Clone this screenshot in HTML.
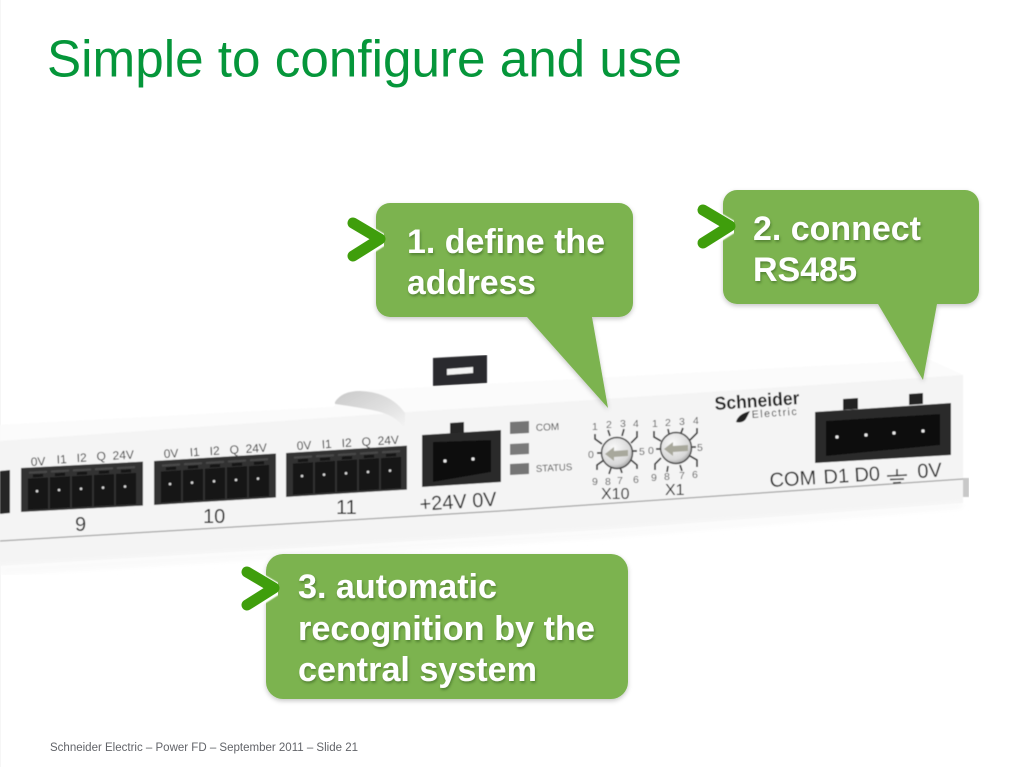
<!DOCTYPE html>
<html><head><meta charset="utf-8"><style>
html,body{margin:0;padding:0;background:#fff;width:1024px;height:767px;overflow:hidden}
svg{display:block}
text{font-family:"Liberation Sans",sans-serif}
.c{font-weight:bold;font-size:34px;fill:#fff;filter:url(#ts)}
.s{font-size:12px;fill:#333}
.l{fill:#222}
.n{font-size:10.5px;fill:#5a5a5a}
</style></head><body>
<svg width="1024" height="767" viewBox="0 0 1024 767" xmlns="http://www.w3.org/2000/svg">
<defs>
<filter id="ts" x="-5%" y="-20%" width="110%" height="140%"><feDropShadow dx="1" dy="2" stdDeviation="1.2" flood-color="#3c6a20" flood-opacity=".65"/></filter>
<filter id="bs" x="-5%" y="-5%" width="110%" height="112%"><feDropShadow dx="0" dy="2" stdDeviation="2.5" flood-color="#000" flood-opacity=".22"/></filter>
<filter id="bl"><feGaussianBlur stdDeviation=".6"/></filter>
<filter id="bl2" x="-5%" y="-50%" width="110%" height="200%"><feGaussianBlur stdDeviation="3"/></filter>
<filter id="soft" x="0" y="0" width="100%" height="100%"><feGaussianBlur stdDeviation=".45"/></filter>
<linearGradient id="hump" x1="0" y1="0" x2="1" y2="1"><stop offset="0" stop-color="#c9c9c9"/><stop offset=".7" stop-color="#e6e6e6"/><stop offset="1" stop-color="#f6f6f6"/></linearGradient>
<linearGradient id="chv" x1="0" y1="0" x2="0" y2="1"><stop offset="0" stop-color="#3a9a08"/><stop offset="1" stop-color="#48a312"/></linearGradient>
<radialGradient id="dial" cx=".4" cy=".35" r=".7"><stop offset="0" stop-color="#fafafa"/><stop offset=".75" stop-color="#d8d8d8"/><stop offset="1" stop-color="#9a9a9a"/></radialGradient>
<g id="slot">
<rect x="0" y="2" width="20" height="31" fill="#131313"/>
<rect x="1" y="-5" width="18" height="2.2" fill="#4a4a4a"/>
<rect x="5" y="-2" width="10" height="3" fill="#191919"/>
<circle cx="9" cy="15" r="1.3" fill="#ddd"/>
</g>
<g id="chev"><path d="M6 5 L33 21 L6 38" fill="none" stroke="#fff" stroke-width="14" stroke-linejoin="round" stroke-linecap="round" filter="url(#bl)" transform="translate(1 1)"/><path d="M6 5 L33 21 L6 38" fill="none" stroke="#3f9e0c" stroke-width="11" stroke-linejoin="round" stroke-linecap="round"/></g>
</defs>

<rect width="1024" height="767" fill="#fff"/>
<rect x="0" y="0" width="1" height="767" fill="#f6f6f6"/>

<text x="47" y="76.5" font-size="52" fill="#05963a" textLength="635" lengthAdjust="spacingAndGlyphs">Simple to configure and use</text>

<!-- device -->
<g filter="url(#soft)">
<path d="M0 425 L333 407 L357 391 L930 360 L963 375 L963 503 L600 530 L0 566Z" fill="#f4f4f4"/>
<path d="M0 425 L333 407 L357 391 L930 360 L963 375 L500 406 L408 412 L0 441Z" fill="#fbfbfb"/>
<path d="M0 541 L500 511 L963 479" fill="none" stroke="#a4a4a4" stroke-width="1.3"/>
<path d="M0 566 L600 530 L963 503 L963 508 L600 538 L0 575Z" fill="#f9f9f9" filter="url(#bl2)"/>
<rect x="963" y="478" width="6" height="19" fill="#c8c8c8"/>
<path d="M335 402 Q342 391 360 391 Q390 392 405 413 L405 430 Q398 415 372 410 Q350 406 335 404Z" fill="url(#hump)"/>

<!-- clip -->
<path d="M433 358 L487 355 L487 383 L433 386Z" fill="#2a2c2e"/>
<path d="M447 369 L473 367 L473 373 L447 375Z" fill="#f4f4f4"/>

<!-- left partial -->
<path d="M0 471 L10 470 L10 513 L0 514Z" fill="#262626"/>

<!-- conn 9 -->
<g transform="translate(21 468) skewY(-3)">
<rect width="122" height="44" fill="#303030"/>
<use href="#slot" x="7" y="9"/><use href="#slot" x="29" y="9"/><use href="#slot" x="51" y="9"/><use href="#slot" x="73" y="9"/><use href="#slot" x="95" y="9"/>
</g>
<g transform="translate(154 461) skewY(-3.5)">
<rect width="122" height="44" fill="#303030"/>
<use href="#slot" x="7" y="9"/><use href="#slot" x="29" y="9"/><use href="#slot" x="51" y="9"/><use href="#slot" x="73" y="9"/><use href="#slot" x="95" y="9"/>
</g>
<g transform="translate(286 453) skewY(-3.5)">
<rect width="121" height="44" fill="#303030"/>
<use href="#slot" x="7" y="9"/><use href="#slot" x="29" y="9"/><use href="#slot" x="51" y="9"/><use href="#slot" x="73" y="9"/><use href="#slot" x="95" y="9"/>
</g>

<g transform="rotate(-3 31 466)"><text class="s" x="31" y="466">0V</text><text class="s" x="57" y="465">I1</text><text class="s" x="77" y="464.5">I2</text><text class="s" x="97" y="464">Q</text><text class="s" x="113" y="464">24V</text></g>
<g transform="rotate(-3.5 164 458)"><text class="s" x="164" y="458">0V</text><text class="s" x="190" y="458">I1</text><text class="s" x="210" y="458">I2</text><text class="s" x="230" y="458">Q</text><text class="s" x="246" y="458">24V</text></g>
<g transform="rotate(-3.5 297 450)"><text class="s" x="297" y="450">0V</text><text class="s" x="322" y="450">I1</text><text class="s" x="342" y="450">I2</text><text class="s" x="362" y="450">Q</text><text class="s" x="378" y="450">24V</text></g>
<text class="l" x="75" y="531" font-size="20">9</text>
<text class="l" x="203" y="523" font-size="20">10</text>
<text class="l" x="336" y="514" font-size="20">11</text>

<!-- 24V conn -->
<path d="M450 423 L464 422 L464 433 L450 434Z" fill="#262626"/>
<path d="M422 435 L501 430 L501 482 L422 487Z" fill="#2c2c2c"/>
<path d="M433 442 L491 440 L491 472 L433 482Z" fill="#111"/>
<circle cx="445" cy="461" r="1.6" fill="#eee"/><circle cx="473" cy="459" r="1.6" fill="#eee"/>
<text class="l" x="420" y="511" font-size="20" transform="rotate(-4 420 511)">+24V 0V</text>

<!-- LEDs -->
<path d="M510 422 L529 421 L529 433 L510 434Z" fill="#747474"/>
<path d="M510 444 L529 443 L529 454 L510 455Z" fill="#7a7a7a"/>
<path d="M510 464 L529 463 L529 474 L510 475Z" fill="#747474"/>
<text x="536" y="431" font-size="10" fill="#444" transform="rotate(-3 536 431)">COM</text>
<text x="536" y="472" font-size="9.6" fill="#444" transform="rotate(-3 536 472)">STATUS</text>

<!-- dials -->
<g fill="none" stroke="#333" stroke-width="1.7">
<path d="M595 434 V439 L602 444"/><path d="M608 430 L610 436"/><path d="M624 429 L622 436"/><path d="M637 431 V437 L631 443"/>
<path d="M597 470 V465 L604 460"/><path d="M609 474 L611 468"/><path d="M622 473 L620 467"/><path d="M637 469 V465 L631 460"/>
<path d="M597 453 H601"/><path d="M633 451 H637"/>
<path d="M654 431 V437 L661 441"/><path d="M668 429 L669 434"/><path d="M683 428 L681 433"/><path d="M697 428 V433 L690 440"/>
<path d="M655 470 V464 L661 458"/><path d="M667 472 L668 466"/><path d="M682 471 L680 465"/><path d="M697 467 V460 L690 456"/>
<path d="M656 449 H660"/><path d="M692 447 H696"/>
</g>
<circle cx="617" cy="453" r="15.5" fill="url(#dial)" stroke="#444" stroke-width="1.5"/>
<circle cx="676" cy="448" r="15.5" fill="url(#dial)" stroke="#444" stroke-width="1.5"/>
<path d="M605 454 L614 447 V451 L628 450 V456 L614 457 V461Z" fill="#a8a89c"/>
<path d="M664 449 L673 442 V446 L688 445 V451 L673 452 V456Z" fill="#a8a89c"/>
<text class="n" x="592" y="430">1</text><text class="n" x="606" y="428">2</text><text class="n" x="620" y="427">3</text><text class="n" x="633" y="427">4</text>
<text class="n" x="639" y="455">5</text><text class="n" x="633" y="483">6</text><text class="n" x="617" y="484">7</text><text class="n" x="605" y="485">8</text><text class="n" x="592" y="485">9</text><text class="n" x="588" y="458">0</text>
<text class="n" x="652" y="427">1</text><text class="n" x="665" y="426">2</text><text class="n" x="679" y="425">3</text><text class="n" x="693" y="424">4</text>
<text class="n" x="697" y="451">5</text><text class="n" x="692" y="478">6</text><text class="n" x="679" y="479">7</text><text class="n" x="664" y="480">8</text><text class="n" x="651" y="481">9</text><text class="n" x="648" y="454">0</text>
<text class="l" x="601" y="499" font-size="16">X10</text>
<text class="l" x="665" y="495" font-size="16">X1</text>

<!-- logo -->
<text x="715" y="410" font-size="18.5" font-weight="bold" fill="#1c1c1c" transform="rotate(-4 715 410)" textLength="85" lengthAdjust="spacingAndGlyphs">Schneider</text>
<text x="752" y="418" font-size="10.5" fill="#444" textLength="45" transform="rotate(-4 752 418)">Electric</text>
<path d="M736 422 Q738 414 750 411 L747 417 Q744 424 736 422Z" fill="#222"/>

<!-- RS485 conn -->
<path d="M843 399 L858 398 L858 409 L843 410Z" fill="#222"/>
<path d="M909 394 L923 393 L923 404 L909 405Z" fill="#222"/>
<path d="M815 412 L951 403 L951 455 L815 463Z" fill="#2b2b2b"/>
<path d="M826 421 L940 414 L940 445 L826 456Z" fill="#0f0f0f"/>
<circle cx="837" cy="437" r="1.6" fill="#eee"/><circle cx="866" cy="435" r="1.6" fill="#eee"/><circle cx="894" cy="433" r="1.6" fill="#eee"/><circle cx="923" cy="431" r="1.6" fill="#eee"/>
<g transform="rotate(-3.5 770 487)"><text class="l" x="770" y="487" font-size="20">COM</text><text class="l" x="824" y="487" font-size="20">D1</text><text class="l" x="855" y="487" font-size="20">D0</text><text class="l" x="918" y="487" font-size="20">0V</text></g>
<g stroke="#2a2a2a" stroke-width="1.5" fill="none"><path d="M897 469 V475"/><path d="M887 476 L907 475"/><path d="M890 479.5 L904 479"/><path d="M893 483 L901 482.5"/></g>
</g>

<!-- callout 1 -->
<path d="M390 203 H619 A14 14 0 0 1 633 217 V303 A14 14 0 0 1 619 317 H592 L608 408 L527 317 H390 A14 14 0 0 1 376 303 V217 A14 14 0 0 1 390 203Z" fill="#7bb350" filter="url(#bs)"/>
<use href="#chev" x="347" y="218"/>
<text class="c" x="407" y="253" textLength="198" lengthAdjust="spacingAndGlyphs">1. define the</text>
<text class="c" x="407" y="294" textLength="129" lengthAdjust="spacingAndGlyphs">address</text>

<!-- callout 2 -->
<path d="M737 190 H965 A14 14 0 0 1 979 204 V290 A14 14 0 0 1 965 304 H937 L923 380 L878 304 H737 A14 14 0 0 1 723 290 V204 A14 14 0 0 1 737 190Z" fill="#7bb350" filter="url(#bs)"/>
<use href="#chev" x="697" y="205"/>
<text class="c" x="753" y="240" textLength="168" lengthAdjust="spacingAndGlyphs">2. connect</text>
<text class="c" x="753" y="281" textLength="104" lengthAdjust="spacingAndGlyphs">RS485</text>

<!-- callout 3 -->
<rect x="266" y="554" width="362" height="145" rx="17" fill="#7bb350" filter="url(#bs)"/>
<use href="#chev" x="241" y="567"/>
<text class="c" x="298" y="598" textLength="199" lengthAdjust="spacingAndGlyphs">3. automatic</text>
<text class="c" x="298" y="640" textLength="297" lengthAdjust="spacingAndGlyphs">recognition by the</text>
<text class="c" x="298" y="681" textLength="239" lengthAdjust="spacingAndGlyphs">central system</text>

<text x="50" y="751" font-size="12.4" fill="#626469" textLength="308" lengthAdjust="spacingAndGlyphs">Schneider Electric – Power FD – September 2011 – Slide 21</text>
</svg>
</body></html>
